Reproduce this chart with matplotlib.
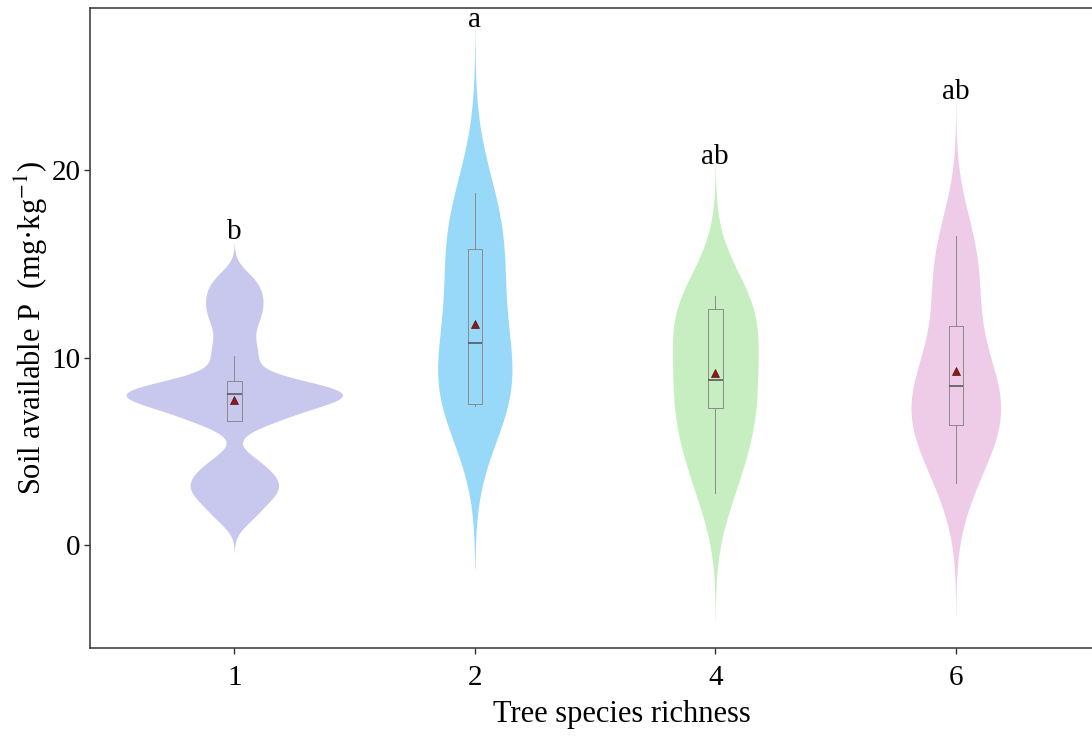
import numpy as np
import matplotlib.pyplot as plt

plt.rcParams['font.family'] = ['Liberation Serif', 'DejaVu Serif']
plt.rcParams['mathtext.fontset'] = 'stix'

# === data ===
groups = ['1', '2', '4', '6']

# samples used for the violin density
samples_1 = [1.4, 2.0, 2.5, 2.8, 3.1, 3.4, 3.7, 4.1, 4.6,
             6.6, 6.6, 7.1, 7.1, 7.6, 7.6, 7.9, 7.9, 8.0, 8.0, 8.1, 8.1,
             8.4, 8.4, 8.7, 8.7, 9.6, 10.2, 10.8,
             11.6, 12.2, 12.7, 13.2, 13.7, 14.3]
samples_2 = [7.4, 7.5, 8.0, 9.0, 10.8, 12.0, 14.8, 15.8, 17.0, 18.8]
samples_4 = [2.8, 4.4, 6.0, 6.9, 7.7, 8.8, 10.0, 11.4, 12.4, 12.9, 13.3]
samples_6 = [3.3, 4.8, 6.0, 6.6, 7.3, 8.0, 8.5, 9.5, 11.7, 13.5, 15.2, 16.5]
bandwidths = [0.6, 2.88, 2.28, 2.37]

# box statistics
q1 = [6.6, 7.5, 7.3, 6.4]
medians = [8.05, 10.8, 8.8, 8.5]
q3 = [8.75, 15.8, 12.6, 11.7]
whisker_lo = [6.6, 7.4, 2.8, 3.3]
whisker_hi = [10.1, 18.8, 13.3, 16.5]
means = [7.73, 11.8, 9.2, 9.3]
letters = ['b', 'a', 'ab', 'ab']

colors = ['#C8C8EE', '#98D8F8', '#C6EEC0', '#EECCE8']

all_samples = [samples_1, samples_2, samples_4, samples_6]


def kde(values, bw):
    x = np.asarray(values, float)
    grid = np.linspace(x.min() - 3 * bw, x.max() + 3 * bw, 512)
    z = (grid[:, None] - x[None, :]) / bw
    dens = np.exp(-0.5 * z ** 2).sum(axis=1) / (len(x) * bw * np.sqrt(2 * np.pi))
    return grid, dens


fig = plt.figure(figsize=(10.92, 7.36), dpi=100)
ax = fig.add_axes([90 / 1092, 88 / 736, 1064 / 1092, 640 / 736])

positions = np.arange(1, len(groups) + 1)
dens_list = [kde(s, bw) for s, bw in zip(all_samples, bandwidths)]
dmax = max(d.max() for _, d in dens_list)

# violins (scale = area)
for pos, (grid, dens), col, lab in zip(positions, dens_list, colors, letters):
    half = 0.45 * dens / dmax
    ax.fill_betweenx(grid, pos - half, pos + half, color=col, lw=0, zorder=1)
    ax.text(pos, grid.max() + 0.2, lab, ha='center', va='baseline', fontsize=21)

# boxes
stats = []
for i in range(len(groups)):
    stats.append(dict(med=medians[i], q1=q1[i], q3=q3[i],
                      whislo=whisker_lo[i], whishi=whisker_hi[i],
                      mean=means[i], fliers=[]))
ax.bxp(stats, positions=positions, widths=0.06, showcaps=False,
       showfliers=False, showmeans=True, manage_ticks=False,
       boxprops=dict(color='#8a8a8a', lw=0.7),
       whiskerprops=dict(color='#8a8a8a', lw=0.7),
       medianprops=dict(color='#505050', lw=1.1),
       meanprops=dict(marker='^', markersize=6, markerfacecolor='#8B1A1A',
                      markeredgecolor='#5a0f0f', markeredgewidth=0.5),
       zorder=2)

ax.set_xlim(0.4, 0.4 + 1064 / 240.5)
ax.set_ylim(-5.49, 28.64)
ax.set_xticks(positions)
ax.set_xticklabels(groups)
ax.set_yticks([0, 10, 20])
ax.tick_params(labelsize=21, length=4.5, width=1, color='#333333')
ax.tick_params(axis='x', pad=8)
ax.tick_params(axis='y', pad=2.5)

for side in ['left', 'bottom', 'top', 'right']:
    ax.spines[side].set_color('#333333')
    ax.spines[side].set_linewidth(1.1)

ax.set_xlabel('Tree species richness', fontsize=22, labelpad=6)
ax.set_ylabel('Soil available P  (mg·kg$^{-1}$)', fontsize=22, labelpad=1)

fig.savefig('out.png', dpi=100)
